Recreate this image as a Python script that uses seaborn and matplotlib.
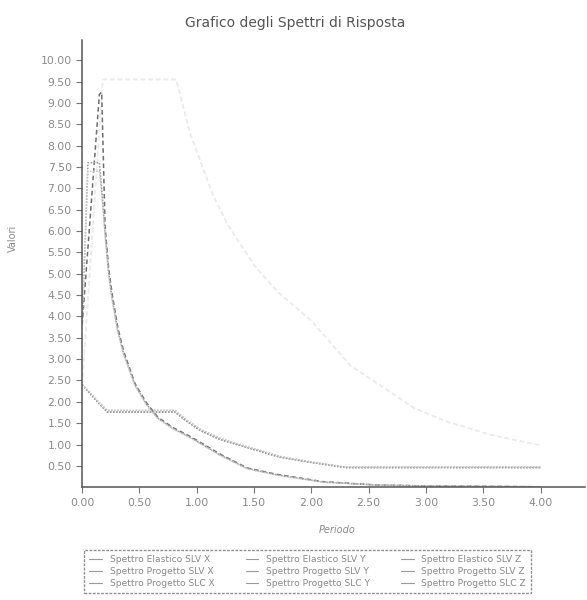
import numpy as np
import pandas as pd
import matplotlib.pyplot as plt
import seaborn as sns
from matplotlib.ticker import MultipleLocator, FormatStrFormatter

sns.set_style("white")
plt.rcParams['font.family'] = ['DejaVu Sans']

# periods / values
t_el_xy = [0.00, 0.08, 0.18, 0.50, 0.82, 0.94, 1.14, 1.27, 1.50, 1.70, 2.00, 2.34, 2.90, 3.19, 3.56, 4.00]
el_xy = [2.40, 5.60, 9.55, 9.55, 9.55, 8.30, 6.85, 6.15, 5.20, 4.59, 3.90, 2.85, 1.85, 1.53, 1.23, 0.98]

t_pr_xy = [0.00, 0.05, 0.10, 0.15, 0.22, 0.50, 0.81, 0.90, 1.03, 1.20, 1.40, 1.73, 2.00, 2.30, 2.40, 3.00, 3.50, 4.00]
pr_slv_xy = [2.40, 2.25, 2.10, 1.95, 1.76, 1.76, 1.76, 1.57, 1.33, 1.12, 0.96, 0.70, 0.58, 0.46, 0.46, 0.46, 0.46, 0.46]
pr_slc_xy = [2.40, 2.27, 2.13, 1.98, 1.80, 1.80, 1.80, 1.60, 1.36, 1.15, 0.98, 0.72, 0.59, 0.47, 0.47, 0.47, 0.47, 0.47]

t_z = [0.00, 0.05, 0.10, 0.15, 0.17, 0.20, 0.23, 0.26, 0.31, 0.36, 0.46, 0.56, 0.66, 0.79, 0.92, 1.00,
       1.20, 1.44, 1.70, 2.10, 2.58, 3.00, 3.50, 4.00]
el_z = [3.80, 5.60, 7.40, 9.20, 9.25, 6.10, 5.15, 4.55, 3.75, 3.20, 2.43, 1.98, 1.64, 1.40, 1.22, 1.10,
        0.78, 0.45, 0.30, 0.13, 0.05, 0.03, 0.02, 0.01]
pr_slv_z = [3.80, 7.60, 7.60, 7.60, 7.00, 5.95, 5.05, 4.45, 3.68, 3.15, 2.40, 1.95, 1.62, 1.38, 1.20, 1.08,
            0.76, 0.44, 0.29, 0.12, 0.05, 0.03, 0.02, 0.01]
pr_slc_z = [3.80, 7.40, 7.40, 7.40, 6.90, 5.90, 5.00, 4.40, 3.65, 3.12, 2.38, 1.93, 1.60, 1.37, 1.19, 1.07,
            0.75, 0.43, 0.28, 0.12, 0.05, 0.03, 0.02, 0.01]

series = [
    ("Spettro Elastico SLV X", t_el_xy, el_xy, "#ebebeb", (0, (3, 2))),
    ("Spettro Progetto SLV X", t_pr_xy, pr_slv_xy, "#9a9a9a", (0, (1, 1))),
    ("Spettro Progetto SLC X", t_pr_xy, pr_slc_xy, "#c8c8c8", (0, (1, 1))),
    ("Spettro Elastico SLV Y", t_el_xy, el_xy, "#ebebeb", (0, (3, 2))),
    ("Spettro Progetto SLV Y", t_pr_xy, pr_slv_xy, "#9a9a9a", (0, (1, 1))),
    ("Spettro Progetto SLC Y", t_pr_xy, pr_slc_xy, "#c8c8c8", (0, (1, 1))),
    ("Spettro Elastico SLV Z", t_z, el_z, "#6e6e6e", (0, (3, 2))),
    ("Spettro Progetto SLV Z", t_z, pr_slv_z, "#9a9a9a", (0, (1, 1))),
    ("Spettro Progetto SLC Z", t_z, pr_slc_z, "#c8c8c8", (0, (1, 1))),
]

fig = plt.figure(figsize=(5.87, 6.0), dpi=100)
ax = fig.add_axes([0.14, 0.188, 0.857, 0.745])

for name, t, v, col, ls in series:
    df = pd.DataFrame({"Periodo": t, "Valori": v})
    sns.lineplot(data=df, x="Periodo", y="Valori", ax=ax, color=col,
                 linestyle=ls, linewidth=1.1, label=name, legend=False)

ax.set_xlim(0, 4.39)
ax.set_ylim(0, 10.47)
ax.yaxis.set_minor_locator(MultipleLocator(0.1))
ax.set_xticks(np.arange(0, 4.01, 0.5))
ax.set_yticks(np.arange(0.5, 10.01, 0.5))
ax.xaxis.set_major_formatter(FormatStrFormatter("%.2f"))
ax.yaxis.set_major_formatter(FormatStrFormatter("%.2f"))

sns.despine(ax=ax)
for s in ["left", "bottom"]:
    ax.spines[s].set_color("#555555")
    ax.spines[s].set_linewidth(1.1)
ax.tick_params(axis="both", which="major", direction="out", length=4, width=0.8,
               colors="#777777", labelsize=7.8, labelcolor="#8a8a8a")
ax.tick_params(axis="y", which="minor", direction="out", length=2, width=0.6, colors="#888888")
ax.tick_params(axis="y", which="major", left=True)
ax.tick_params(axis="x", which="major", bottom=True)

fig.text(0.503, 0.962, "Grafico degli Spettri di Risposta", fontsize=10,
         color="#555555", ha="center", va="center")
ax.set_xlabel("Periodo", fontsize=7, style="italic", color="#8a8a8a")
ax.set_ylabel("Valori", fontsize=7, color="#8a8a8a")
ax.xaxis.set_label_coords(0.507, -0.085)
ax.yaxis.set_label_coords(-0.127, 0.557)

handles, labels = ax.get_legend_handles_labels()
leg = fig.legend(handles, labels, loc="lower left", bbox_to_anchor=(0.136, 0.004),
                 ncol=3, fontsize=6.6, frameon=True, fancybox=False,
                 handlelength=1.4, columnspacing=3.4, borderpad=0.55, labelspacing=0.3)
leg.get_frame().set_edgecolor("#777777")
leg.get_frame().set_linestyle((0, (2, 1)))
for h in leg.legend_handles:
    h.set_color("#999999")
    h.set_linestyle("-")
    h.set_linewidth(0.8)
for txt in leg.get_texts():
    txt.set_color("#8a8a8a")

fig.savefig("out.png", dpi=100)
